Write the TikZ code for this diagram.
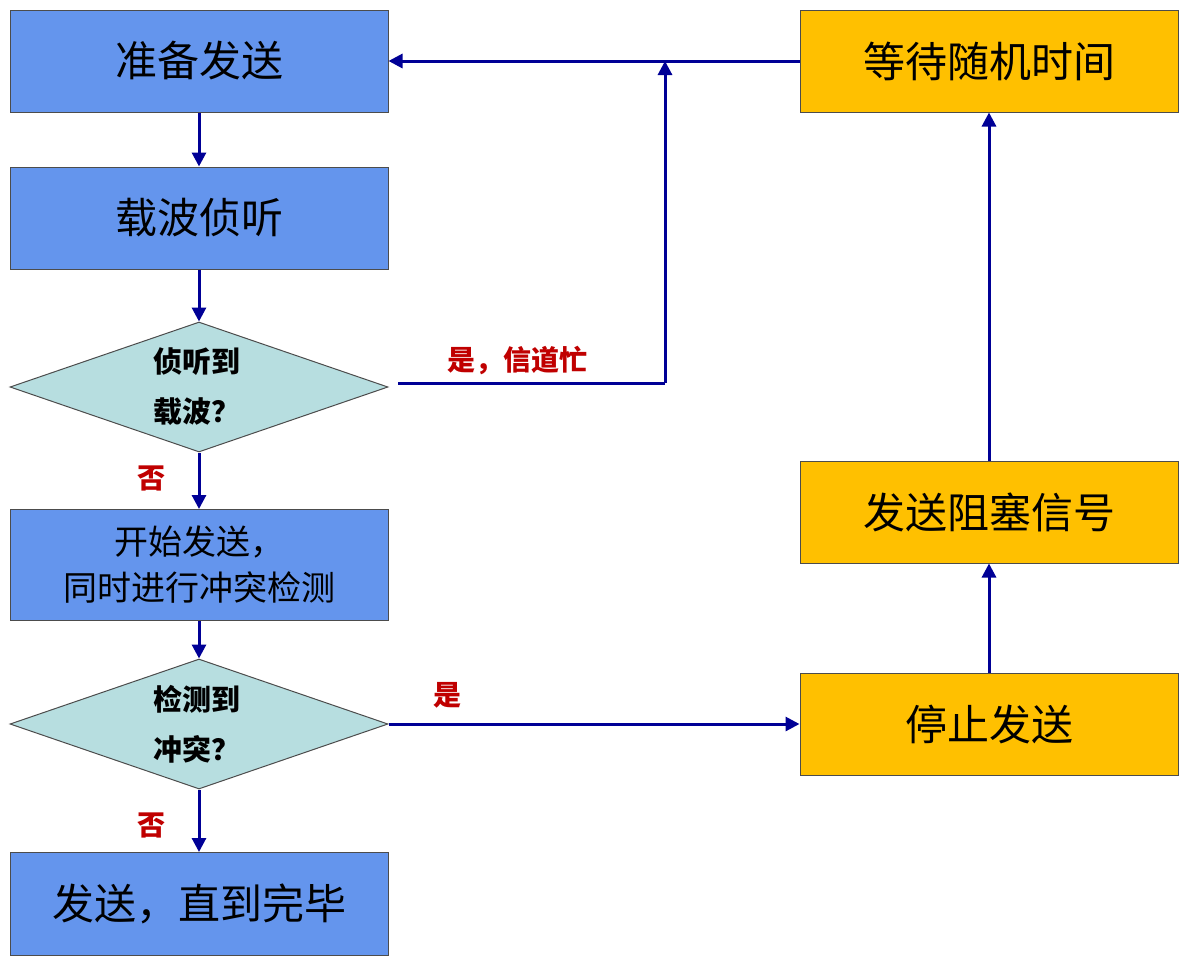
\documentclass[tikz,border=0pt]{standalone}
\usepackage{fontspec}
\setmainfont{Noto Sans CJK SC}
\usetikzlibrary{shapes.geometric,arrows.meta}
\definecolor{bbox}{RGB}{100,149,237}
\definecolor{ybox}{RGB}{255,192,0}
\definecolor{dia}{RGB}{183,222,224}
\definecolor{arr}{RGB}{0,0,150}
\definecolor{lab}{RGB}{192,0,0}
\begin{document}
\begin{tikzpicture}[x=1pt,y=-1pt,
 box/.style={draw=black!70,line width=1pt,minimum width=378pt,minimum height=102pt,inner sep=0pt,font=\fontsize{42}{48}\selectfont,align=center},
 bb/.style={box,fill=bbox},
 yb/.style={box,fill=ybox},
 dm/.style={diamond,draw=black!70,line width=1pt,fill=dia,minimum width=378pt,minimum height=130pt,aspect=2.9,inner sep=0pt},
 ar/.style={draw=arr,line width=3pt,-{Triangle[length=14pt,width=14pt]}},
 ln/.style={draw=arr,line width=3pt},
 lb/.style={text=lab,font=\fontsize{28}{32}\selectfont\bfseries}]
\useasboundingbox[fill=white] (0,0) rectangle (1188,962);
\node[bb] (a) at (199,61) {准备发送};
\node[bb] (b) at (199,218) {载波侦听};
\node[dm] (d1) at (199,387) {};
\node[font=\fontsize{29}{50}\selectfont\bfseries,align=left] (t1) at (197,387) {侦听到\\载波？};
\node[bb,minimum height=111pt,font=\fontsize{34}{46}\selectfont] (c) at (199,565) {开始发送，\\同时进行冲突检测};
\node[dm] (d2) at (199,724) {};
\node[font=\fontsize{29}{50}\selectfont\bfseries,align=left] (t2) at (197,724) {检测到\\冲突？};
\node[bb,minimum height=103pt] (e) at (199,904) {发送，直到完毕};
\node[yb] (w) at (989,61) {等待随机时间};
\node[yb] (j) at (989,512) {发送阻塞信号};
\node[yb] (s) at (989,724) {停止发送};
\coordinate (k) at (665,61);
\coordinate (m) at (665,383);
\draw[ar] (a) -- (b);
\draw[ar] (b) -- (d1);
\draw[ar] (d1) -- (c);
\draw[ar] (c) -- (d2);
\draw[ar] (d2) -- (e);
\draw[ar] (w) -- (a);
\draw[ln] (398,383) -- (m);
\draw[ar] (m) -- (k);
\draw[ar] (d2) -- (s);
\draw[ar] (s) -- (j);
\draw[ar] (j) -- (w);
\node[lb] (l1) at (517,360) {是，信道忙};
\node[lb] (l2) at (447,695) {是};
\node[lb] (l3) at (151,478) {否};
\node[lb] (l4) at (151,825) {否};
\end{tikzpicture}
\end{document}
